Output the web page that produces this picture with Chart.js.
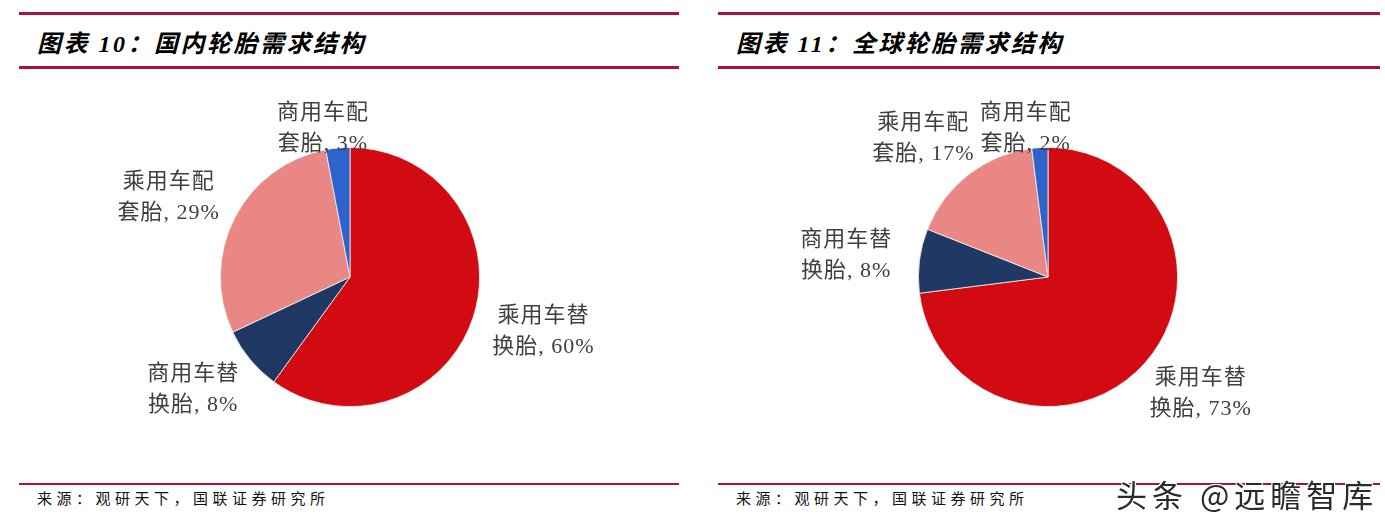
<!DOCTYPE html>
<html>
<head>
<meta charset="utf-8">
<script src="https://cdn.jsdelivr.net/npm/chart.js@4"></script>
<style>
  html, body { margin: 0; padding: 0; background: #fff; }
  body { width: 1385px; height: 525px; position: relative; overflow: hidden; font-family: "Noto Sans CJK SC", sans-serif; }
  .panel { position: absolute; top: 0; height: 525px; }
  .rule { position: absolute; left: 0; right: 0; height: 3px; background: #A8123E; }
  .title { position: absolute; left: 18px; top: 24px; font-family: "Liberation Serif", "Noto Sans CJK SC", serif; font-size: 24px; font-weight: bold; font-style: italic; color: #000; letter-spacing: 2.5px; }
  .src { position: absolute; left: 18px; top: 487px; font-size: 15px; color: #111; letter-spacing: 4.5px; }
  .box { position: absolute; left: 0; top: 70px; height: 410px; }
  .wm { position: absolute; left: 1116px; top: 471px; font-size: 31px; color: #2a2a2a; letter-spacing: 5px;
        text-shadow: 1px 1px 0 #fff, -1px -1px 0 #fff, 1px -1px 0 #fff, -1px 1px 0 #fff; }
</style>
</head>
<body>
<div class="panel" style="left:19px;width:660px">
  <div class="rule" style="top:12px"></div>
  <div class="title">图表 10：国内轮胎需求结构</div>
  <div class="rule" style="top:66px"></div>
  <div class="box" style="width:660px"><canvas id="c1"></canvas></div>
  <div class="rule" style="top:483px;height:2px"></div>
  <div class="src">来源：观研天下，国联证券研究所</div>
</div>
<div class="panel" style="left:718px;width:662px">
  <div class="rule" style="top:12px"></div>
  <div class="title">图表 11：全球轮胎需求结构</div>
  <div class="rule" style="top:66px"></div>
  <div class="box" style="width:662px"><canvas id="c2"></canvas></div>
  <div class="rule" style="top:483px;height:2px"></div>
  <div class="src">来源：观研天下，国联证券研究所</div>
</div>
<div class="wm">头条 @远瞻智库</div>
<script>
// 分类（两行标签）
var labelsTop = ['乘用车替', '商用车替', '乘用车配', '商用车配'];
var labelsBottom = ['换胎', '换胎', '套胎', '套胎'];
var domesticShare = [60, 8, 29, 3];
var globalShare = [73, 8, 17, 2];
var colors = ['#D20A12', '#1F3864', '#E88784', '#2E63C9'];

// 数据标签：放在扇区外侧（小扇区贴近饼图顶部）
var pieLabels = {
  id: 'pieLabels',
  afterDatasetsDraw(chart) {
    var ctx = chart.ctx;
    var meta = chart.getDatasetMeta(0);
    var values = chart.data.datasets[0].data;
    ctx.save();
    ctx.font = '22px "Liberation Serif", "Noto Sans CJK SC"';
    ctx.letterSpacing = '1px';
    ctx.fillStyle = '#404040';
    ctx.textAlign = 'center';
    ctx.textBaseline = 'middle';
    meta.data.forEach(function (arc, i) {
      var mid = (arc.startAngle + arc.endAngle) / 2;
      var r = arc.outerRadius;
      var x, y;
      if (values[i] < 5) {
        x = arc.x + Math.cos(mid) * r * 1.15 - r * 0.1;
        y = arc.y + Math.sin(mid) * r * 1.15;
      } else {
        x = arc.x + Math.cos(mid) * r * 1.57;
        y = arc.y + Math.sin(mid) * r * 1.36;
      }
      ctx.fillText(labelsTop[i], x, y - 15);
      ctx.fillText(labelsBottom[i] + ', ' + values[i] + '%', x, y + 16);
    });
    ctx.restore();
  }
};

function makePie(id, values, pad) {
  new Chart(document.getElementById(id), {
    type: 'pie',
    data: {
      labels: labelsTop.map(function (t, i) { return t + labelsBottom[i]; }),
      datasets: [{
        data: values,
        backgroundColor: colors,
        borderColor: '#f4f4f4',
        borderWidth: 0.8
      }]
    },
    options: {
      responsive: true,
      maintainAspectRatio: false,
      animation: false,
      layout: { padding: pad },
      plugins: { legend: { display: false }, tooltip: { enabled: false } }
    },
    plugins: [pieLabels]
  });
}

makePie('c1', domesticShare, { left: 201, right: 199, top: 77, bottom: 73 });
makePie('c2', globalShare, { left: 200, right: 202, top: 77, bottom: 73 });
</script>
</body>
</html>
